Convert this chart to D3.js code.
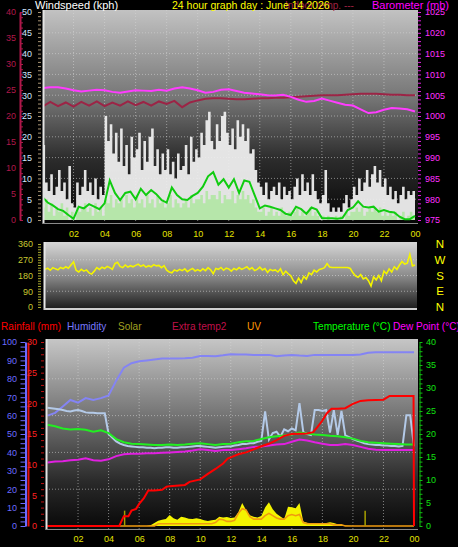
<!DOCTYPE html>
<html><head><meta charset="utf-8">
<script src="https://cdn.jsdelivr.net/npm/d3@7"></script>
<style>body{margin:0;background:#000;}svg{display:block;}</style>
</head><body>
<svg id="c" width="458" height="547"></svg>
<script>
// ---------------- DATA ----------------
const hourValues = [2,4,6,8,10,12,14,16,18,20,22,24];
const hourLabels = ["02","04","06","08","10","12","14","16","18","20","22","00"];
const windTicks = [0,5,10,15,20,25,30,35,40,45,50];
const indoorTicks = [0,5,10,15,20,25,30,35,40];
const baroTicks = [975,980,985,990,995,1000,1005,1010,1015,1020,1025];
const dirTicks = [0,90,180,270,360];
const compassLabels = ["N","W","S","E","N"];
const compassValues = [360,270,180,90,0];
const humTicks = [0,10,20,30,40,50,60,70,80,90,100];
const rainTicks = [0,5,10,15,20,25,30];
const tempTicks = [0,5,10,15,20,25,30,35,40];

// wind gust (kph), every 10 minutes
const gust = [
18,9,7,11,6,8, 12,7,9,5,13,4, 3,9,6,8,12,7, 9,6,10,5,8,6,
25,19,23,16,21,14, 22,13,18,11,20,15, 17,21,12,19,14,20, 22,13,17,11,16,12,
17,11,14,10,16,12, 13,18,11,20,14,17, 15,21,18,24,26,19, 17,23,19,25,26,21,
18,22,17,24,20,23, 19,22,16,17,12,9, 8,6,9,5,7,8, 6,9,5,8,6,7,
5,8,10,6,11,7, 9,6,11,7,5,4, 6,12,4,2,3,2, 3,2,4,6,3,5,
8,6,10,7,9,12, 8,11,13,9,12,8, 10,6,8,5,7,4, 6,8,5,7,6,7, 7];
// wind speed (kph), every 10 minutes
const speed = [
3,5,2,4,1,3, 2,4,1,3,0,2, 0,3,2,3,4,2, 3,1,4,2,3,1,
5,4,6,3,5,4, 5,3,6,4,5,3, 6,4,5,3,6,4, 5,3,6,4,5,3,
4,6,3,5,4,3, 4,5,3,6,4,5, 5,6,4,7,5,6, 6,5,7,4,6,5,
5,7,4,6,5,7, 5,6,4,5,3,2, 2,3,1,2,3,1, 2,1,3,2,1,2,
1,2,3,1,2,1, 2,3,1,2,1,0, 1,0,1,0,0,1, 0,1,0,2,1,2,
2,3,2,3,1,2, 3,2,3,2,3,1, 2,1,2,1,2,0, 1,2,0,1,2,1, 1];
// average wind (kph), every 20 minutes
const avgWind = [
5.5,4.2,3.5,2.6,2.2,1.2,0.3, 3.2,2.8,3.8,3.2,2.6,
4.0,9.5,6.5, 4.8,6.5,6.8, 5.0,7.5,6.0, 7.2,6.2,4.8, 4.2,7.8,6.0, 5.0,4.8,5.8,
6.5,8.0,10.5, 11.5,8.5,9.8, 7.8,9.8,6.5, 9.5,9.2,6.0, 2.8,3.5,3.2, 2.8,2.4,1.5,
1.2,3.2,2.6, 1.5,3.0,2.5, 0.5,0.4,0.4, 0.3,0.5,2.4, 3.0,4.5,3.2, 3.0,3.2,2.0,
2.4,2.0,1.8, 0.8,0.2,0.2, 1.0];
// barometer (mb), every 30 minutes
const baro = [1006.7,1006.9,1006.9,1006.6,1006.2,1005.9,1006.1,1006.3,1006.2,1005.8,
1005.6,1005.9,1006.2,1006.1,1006.0,1006.3,1006.1,1006.6,1006.9,1006.6,
1006.2,1005.6,1005.8,1006.3,1006.4,1006.0,1005.6,1005.4,1005.2,1005.0,
1004.9,1005.1,1004.6,1003.9,1003.4,1003.6,1004.2,1003.7,1003.2,1002.7,
1002.5,1001.6,1000.7,1000.9,1001.5,1001.9,1001.8,1001.6,1001.1];
// indoor temp (°C), every 30 minutes
const indoor = [21.8,22.7,21.9,22.6,21.8,22.7,22.0,22.8,21.9,22.6,
22.0,22.8,22.1,22.7,22.0,22.8,22.3,22.9,21.7,22.6,
23.0,23.3,23.4,23.4,23.3,23.2,23.2,23.3,23.4,23.4,
23.5,23.5,23.6,23.7,23.8,23.9,24.0,24.0,24.0,24.1,
24.2,24.3,24.3,24.3,24.2,24.1,24.1,24.0,24.0];
// wind direction (deg), every 10 minutes
const windDir = [
230,215,222,210,225,218, 212,226,219,230,222,240, 258,210,200,215,205,212, 195,188,205,225,215,228,
220,232,225,215,248,255, 232,225,240,228,236,230, 238,245,232,240,228,236, 230,242,235,238,225,236,
210,200,195,212,205,215, 208,218,202,212,220,206, 214,205,218,208,225,212, 190,220,215,226,210,222,
218,205,220,212,225,215, 222,230,215,225,208,215, 228,212,220,198,215,208, 212,200,218,185,205,190,
178,150,135,165,140,175, 160,195,185,210,200,215, 218,225,248,228,226,226, 226,226,226,226,226,220,
195,178,170,185,160,168, 150,120,172,155,180,150, 205,190,218,200,230,215, 240,260,245,250,300,235, 240];

// bottom chart, every 30 minutes
const temperature = [22.0,21.7,21.2,21.0,21.1,20.9,20.5,20.8,20.2,18.9,
18.2,17.9,17.8,17.7,17.6,17.6,17.7,17.6,17.7,17.9,
18.0,17.8,17.6,17.8,17.9,18.2,18.4,18.5,18.9,19.3,
19.5,19.7,19.9,20.3,20.1,19.9,19.8,19.6,19.5,19.3,
19.0,18.5,18.2,18.1,18.0,17.9,17.8,17.7,17.7];
const dewPoint = [13.8,14.0,14.1,14.3,14.4,14.7,14.3,14.2,14.5,15.2,
15.6,15.7,15.7,15.8,15.8,15.9,16.0,16.1,16.2,16.4,
16.7,16.5,16.3,16.5,16.5,16.7,16.9,17.2,17.3,17.5,
17.7,17.8,18.3,18.8,18.6,18.2,17.9,17.6,17.6,17.8,
17.6,17.2,16.8,16.6,16.5,16.5,16.5,16.5,16.5];
const humidity = [60,61.5,65,68.5,67,69.5,68.5,69.5,71,79,
86,88.5,89.5,90,90.5,91,91,91,91.2,91.5,
92.4,92.4,92.3,92.8,93.4,93.2,93.2,93.0,93.0,93.0,
92.2,92.6,93.0,92.6,92.4,93.0,93.0,93.0,93.0,93.0,
93.0,93.2,94.2,94.4,94.4,94.4,94.4,94.4,94.4];
// extra temperature sensor (pale blue), every 15 minutes
const extraTemp = [
25.7,25.6,25.5,25.4,25.2,25.0,24.9,25.1,25.2,25.0,24.7,24.6,24.6,24.5,24.5,24.5,
20.0,19.2,18.4,17.9,17.6,17.4,17.3,17.2,17.1,17.1,17.0,17.0,16.9,17.0,17.0,17.1,
17.1,17.0,17.0,17.1,17.1,17.2,17.3,17.4,17.4,17.3,17.2,17.1,17.0,17.1,17.2,17.3,
17.3,17.5,17.6,17.8,17.8,18.0,18.0,18.3,18.5,24.9,18.8,20.2,20.5,19.4,21.0,20.6,
21.2,20.8,26.7,20.4,20.0,19.8,25.2,25.2,25.0,25.2,20.3,25.2,19.8,25.0,19.7,19.3,
18.9,18.6,18.3,18.0,17.8,17.7,17.6,17.6,17.5,17.5,17.4,17.4,17.3,17.4,24.1,24.1,
17.3];
// solar radiation (W/m2), every 15 minutes
const solar = [
0,0,0,0,0,0,0,0,0,0,0,0,0,0,0,0,0,0,0,0,0,0,0,0,0,0,0,
5,20,35,40,45,72,50,40,60,55,48,45,50,46,38,32,38,40,60,55,58,
52,55,90,150,105,70,60,55,65,120,155,110,80,62,45,125,122,115,150,30,
22,18,15,18,20,20,25,20,12,8,4,2,
0,0,0,0,0,0,0,0,0,0,0,0,0,0,0,0,0];
// UV index, every 15 minutes
const uv = [
0,0,0,0,0,0,0,0,0,0,0,0,0,0,0,0,0,0,0,0,0,0,0,0,0,0,0,0,0,
0.2,0.2,0.2,0.2,0.2,0.2,0.2,0.2,0.2,0.2,0.2,0.2,0.2,0.2,0.2,
0.3,0.6,0.55,0.4,0.4,0.5,1.1,1.5,1.4,0.8,0.6,0.6,0.6,0.9,1.1,0.9,
0.7,0.6,0.6,0.9,1.0,0.9,1.0,0.3,0.2,0.2,0.2,0.2,0.2,0.2,0.2,0.1,0.1,0.1,
0,0,0,0,0,0,0,0,0,0,0,0,0,0,0,0,0,0,0];
// daily rainfall (mm)
const rainTime = [0,4.7,5.0,5.3,5.5,5.8,6.0,6.3,6.6,7.0,7.5,7.8,8.0,9.0,9.3,10.0,10.5,11.0,11.5,11.8,
12.0,12.5,13.0,13.5,14.0,14.5,15.0,15.5,16.0,17.0,17.4,17.7,18.0,18.3,18.6,19.0,19.5,20.0,20.5,21.0,
22.0,22.4,23.97,24.0];
const rainfall = [0,0,1.6,1.6,2.5,2.8,3.6,4.5,5.8,5.8,5.9,6.4,6.5,6.7,7.2,7.6,8.5,9.3,10.2,11.0,
11.2,11.7,12.0,12.5,13.0,13.4,14.0,14.7,15.0,15.1,15.3,16.2,17.2,18.4,19.1,19.1,19.2,19.9,20.4,20.5,
20.6,21.2,21.2,0];
// single solar spikes (W/m2)
const spikeTime = [5.05, 20.8];
const spikeValue = [100, 100];

// ---------------- DRAW ----------------
const FONT = "'Liberation Sans', Arial, sans-serif";
const svg = d3.select("#c");
svg.append("rect").attr("width",458).attr("height",547).attr("fill","#000");
const defs = svg.append("defs");
function grad(id, stops){
  const g = defs.append("linearGradient").attr("id",id).attr("x1",0).attr("y1",0).attr("x2",0).attr("y2",1);
  stops.forEach(s => g.append("stop").attr("offset",s[0]).attr("stop-color",s[1]));
}
grad("gTop", [[0,"#c2c2c2"],[0.42,"#747474"],[0.7,"#2c2c2c"],[1,"#050505"]]);
grad("gDir", [[0,"#d6d6d6"],[0.5,"#8c8c8c"],[1,"#1c1c1c"]]);
grad("gBot", [[0,"#c6c6c6"],[0.45,"#6a6a6a"],[0.75,"#2a2a2a"],[1,"#080808"]]);
function clip(id,x,y,w,h){ defs.append("clipPath").attr("id",id).append("rect").attr("x",x).attr("y",y).attr("width",w).attr("height",h); }

const t10 = d3.range(gust.length).map(i => i/6);
const t20 = d3.range(avgWind.length).map(i => i/3);
const t30 = d3.range(baro.length).map(i => i/2);
const t15 = d3.range(solar.length).map(i => i/4);

function styleAxis(g, color, size){
  g.selectAll("text").attr("fill",color).style("font",`${size}px ${FONT}`);
  g.selectAll("line").attr("stroke",color);
  g.select(".domain").attr("stroke",color);
}
function gridLines(g, xs, ys, x0, x1, y0, y1, color){
  xs.forEach(x => g.append("line").attr("x1",x).attr("x2",x).attr("y1",y0).attr("y2",y1));
  ys.forEach(y => g.append("line").attr("x1",x0).attr("x2",x1).attr("y1",y).attr("y2",y));
  g.selectAll("line").attr("stroke",color).attr("stroke-width",1).attr("stroke-dasharray","1,2").attr("opacity",0.55);
}

// ===== TOP: wind & barometer =====
const xTop = d3.scaleLinear().domain([0,24]).range([42.5,415]);
const yWind = d3.scaleLinear().domain([0,50]).range([220,12]);
const yIndoor = d3.scaleLinear().domain([0,40]).range([220,12]);
const yBaro = d3.scaleLinear().domain([975,1025]).range([220,12]);
svg.append("rect").attr("x",43).attr("y",10).attr("width",375).attr("height",213).attr("fill","url(#gTop)");
clip("cTop",43,10,375,213);
gridLines(svg.append("g"), hourValues.slice(0,11).map(xTop), windTicks.slice(1,10).map(yWind), 43, 418, 10, 223, "#d8d8d8");
const gTop = svg.append("g").attr("clip-path","url(#cTop)");
gTop.append("path").datum(gust)
  .attr("d", d3.area().curve(d3.curveStepAfter).x((d,i)=>xTop(t10[i])).y0(yWind(0)).y1(d=>yWind(d)))
  .attr("fill","#eeeeee").attr("opacity",0.95);
gTop.append("path").datum(speed)
  .attr("d", d3.area().curve(d3.curveStepAfter).x((d,i)=>xTop(t10[i])).y0(yWind(0)).y1(d=>yWind(d)))
  .attr("fill","#b6e6aa");
gTop.append("path").datum(avgWind)
  .attr("d", d3.line().x((d,i)=>xTop(t20[i])).y(d=>yWind(d)))
  .attr("fill","none").attr("stroke","#10cc10").attr("stroke-width",2);
gTop.append("path").datum(indoor)
  .attr("d", d3.line().x((d,i)=>xTop(t30[i])).y(d=>yIndoor(d)))
  .attr("fill","none").attr("stroke","#9c2446").attr("stroke-width",2);
gTop.append("path").datum(baro)
  .attr("d", d3.line().x((d,i)=>xTop(t30[i])).y(d=>yBaro(d)))
  .attr("fill","none").attr("stroke","#ff3cff").attr("stroke-width",2);
svg.append("line").attr("x1",43.5).attr("x2",43.5).attr("y1",10).attr("y2",224).attr("stroke","#e4e4e4").attr("stroke-width",2);
svg.append("line").attr("x1",43).attr("x2",418).attr("y1",223.5).attr("y2",223.5).attr("stroke","#8a8a8a").attr("stroke-width",1);

// axes top
let ax;
ax = svg.append("g").attr("transform","translate(20,0)")
  .call(d3.axisLeft(yIndoor).tickValues(indoorTicks).tickSize(0).tickSizeOuter(0).tickPadding(4));
styleAxis(ax,"#b0184a",9); ax.select(".domain").attr("stroke-width",2);
ax = svg.append("g").attr("transform","translate(20,0)")
  .call(d3.axisRight(yIndoor).tickValues(d3.range(0,41,1)).tickSize(3).tickSizeOuter(0).tickFormat(""));
styleAxis(ax,"#b0184a",9); ax.select(".domain").remove();
ax = svg.append("g").attr("transform","translate(35,0)")
  .call(d3.axisLeft(yWind).tickValues(windTicks).tickSize(0).tickPadding(3));
styleAxis(ax,"#cfe6ff",9); ax.select(".domain").remove();
ax = svg.append("g").attr("transform","translate(38,0)")
  .call(d3.axisRight(yWind).tickValues(d3.range(0,51,1)).tickSize(3).tickFormat(""));
styleAxis(ax,"#a89474",9); ax.select(".domain").remove();
ax = svg.append("g").attr("transform","translate(419,0)")
  .call(d3.axisRight(yBaro).tickValues(baroTicks).tickFormat(d3.format("d")).tickSize(0).tickPadding(6));
styleAxis(ax,"#ff30ff",9); ax.select(".domain").remove();
ax = svg.append("g").attr("transform","translate(418,0)")
  .call(d3.axisRight(yBaro).tickValues(d3.range(975,1026,1)).tickSize(3).tickFormat(""));
styleAxis(ax,"#e020e0",9); ax.select(".domain").remove();
ax = svg.append("g").attr("transform","translate(0,229)")
  .call(d3.axisBottom(xTop).tickValues(hourValues).tickFormat((d,i)=>hourLabels[i]).tickSize(0).tickPadding(2));
styleAxis(ax,"#e4e400",9); ax.select(".domain").remove();

// titles
function txt(x,y,s,color,size){ return svg.append("text").attr("x",x).attr("y",y).text(s).attr("fill",color).style("font",`${size}px ${FONT}`); }
txt(35,8.5,"Windspeed (kph)","#ffffff",11);
txt(285,8.5,"Indoor temp. ---","#a02040",10);
txt(172,8.5,"24 hour graph day : June 14 2026","#ffff00",10.5);
txt(372,8.5,"Barometer (mb)","#ff00ff",11);

// ===== MIDDLE: wind direction =====
const yDir = d3.scaleLinear().domain([0,360]).range([307,244]);
svg.append("rect").attr("x",44).attr("y",242).attr("width",373).attr("height",67).attr("fill","url(#gDir)");
clip("cDir",44,242,373,67);
gridLines(svg.append("g"), [], [90,180,270].map(yDir), 44, 417, 242, 309, "#e0e0e0");
svg.append("g").attr("clip-path","url(#cDir)").append("path").datum(windDir)
  .attr("d", d3.line().x((d,i)=>xTop(t10[i])).y(d=>yDir(d)))
  .attr("fill","none").attr("stroke","#f4f400").attr("stroke-width",1.6);
svg.append("line").attr("x1",44.5).attr("x2",44.5).attr("y1",242).attr("y2",310).attr("stroke","#e8e8e8").attr("stroke-width",2);
svg.append("line").attr("x1",44).attr("x2",417).attr("y1",309).attr("y2",309).attr("stroke","#cfcfcf").attr("stroke-width",2);
ax = svg.append("g").attr("transform","translate(36,0)")
  .call(d3.axisLeft(yDir).tickValues(dirTicks).tickSize(0).tickPadding(3));
styleAxis(ax,"#c8c830",9); ax.select(".domain").remove();
ax = svg.append("g").attr("transform","translate(38,0)")
  .call(d3.axisRight(yDir).tickValues(d3.range(0,361,15)).tickSize(3).tickFormat(""));
styleAxis(ax,"#a8a830",9); ax.select(".domain").remove();
svg.append("g").selectAll("text").data(compassLabels).join("text")
  .attr("x",440).attr("y",(d,i)=>yDir(compassValues[i])).attr("dy","0.36em")
  .attr("text-anchor","middle").attr("fill","#ffff00").style("font",`11.5px ${FONT}`).text(d=>d);

// ===== BOTTOM: rain, humidity, temperatures, solar =====
const xBot = d3.scaleLinear().domain([0,24]).range([47.5,414]);
const yHum = d3.scaleLinear().domain([0,100]).range([526,342]);
const yRain = d3.scaleLinear().domain([0,30]).range([526,342]);
const yTemp = d3.scaleLinear().domain([0,40]).range([526,342]);
const ySolar = d3.scaleLinear().domain([0,1200]).range([526,342]);
const yUV = d3.scaleLinear().domain([0,16]).range([526,342]);
svg.append("rect").attr("x",46).attr("y",339).attr("width",372).attr("height",190).attr("fill","url(#gBot)");
clip("cBot",46,339,372,190);
gridLines(svg.append("g"), hourValues.slice(0,11).map(xBot), [20,40,60,80].map(yHum), 46, 418, 339, 529, "#d8d8d8");
const gBot = svg.append("g").attr("clip-path","url(#cBot)");
gBot.append("path").datum(humidity)
  .attr("d", d3.line().x((d,i)=>xBot(t30[i])).y(d=>yHum(d)))
  .attr("fill","none").attr("stroke","#8484f4").attr("stroke-width",2);
gBot.append("path").datum(extraTemp)
  .attr("d", d3.line().x((d,i)=>xBot(t15[i])).y(d=>yTemp(d)))
  .attr("fill","none").attr("stroke","#b4cae8").attr("stroke-width",2);
gBot.append("path").datum(solar)
  .attr("d", d3.area().x((d,i)=>xBot(t15[i])).y0(ySolar(0)).y1(d=>ySolar(d)))
  .attr("fill","#f4f400");
gBot.append("path").datum(uv)
  .attr("d", d3.line().x((d,i)=>xBot(t15[i])).y(d=>yUV(d)))
  .attr("fill","none").attr("stroke","#f09a10").attr("stroke-width",1.6);
gBot.append("g").selectAll("line").data(spikeValue).join("line")
  .attr("x1",(d,i)=>xBot(spikeTime[i])).attr("x2",(d,i)=>xBot(spikeTime[i]))
  .attr("y1",ySolar(0)).attr("y2",d=>ySolar(d)).attr("stroke","#a8a000").attr("stroke-width",1.5);
gBot.append("path").datum(dewPoint)
  .attr("d", d3.line().x((d,i)=>xBot(t30[i])).y(d=>yTemp(d)))
  .attr("fill","none").attr("stroke","#e020e0").attr("stroke-width",2);
gBot.append("path").datum(temperature)
  .attr("d", d3.line().x((d,i)=>xBot(t30[i])).y(d=>yTemp(d)))
  .attr("fill","none").attr("stroke","#22ee22").attr("stroke-width",2);
gBot.append("path").datum(rainfall)
  .attr("d", d3.line().x((d,i)=>xBot(rainTime[i])).y(d=>yRain(d)))
  .attr("fill","none").attr("stroke","#ff0000").attr("stroke-width",2);
svg.append("line").attr("x1",46.5).attr("x2",46.5).attr("y1",339).attr("y2",530).attr("stroke","#e4e4e4").attr("stroke-width",2);
svg.append("line").attr("x1",46).attr("x2",418).attr("y1",529.5).attr("y2",529.5).attr("stroke","#8a8a8a").attr("stroke-width",1);

ax = svg.append("g").attr("transform","translate(20,0)")
  .call(d3.axisLeft(yHum).tickValues(humTicks).tickSize(0).tickPadding(3));
styleAxis(ax,"#6c6cff",9); ax.select(".domain").remove();
ax = svg.append("g").attr("transform","translate(25.5,0)")
  .call(d3.axisLeft(yHum).tickValues(d3.range(0,101,2.5)).tickSize(5).tickSizeOuter(0).tickFormat(""));
styleAxis(ax,"#6c6cff",9); ax.select(".domain").attr("stroke-width",2);
ax = svg.append("g").attr("transform","translate(28,0)")
  .call(d3.axisRight(yRain).tickValues([]).tickSizeOuter(0));
styleAxis(ax,"#e01010",9); ax.select(".domain").attr("stroke-width",2);
ax = svg.append("g").attr("transform","translate(40,0)")
  .call(d3.axisLeft(yRain).tickValues(rainTicks).tickSize(0).tickPadding(3));
styleAxis(ax,"#ff2020",9); ax.select(".domain").remove();
ax = svg.append("g").attr("transform","translate(41,0)")
  .call(d3.axisRight(yRain).tickValues(d3.range(0,31,1)).tickSize(3).tickFormat(""));
styleAxis(ax,"#c01010",9); ax.select(".domain").remove();
ax = svg.append("g").attr("transform","translate(420,0)")
  .call(d3.axisRight(yTemp).tickValues(tempTicks).tickSize(0).tickPadding(6));
styleAxis(ax,"#10e010",9); ax.select(".domain").remove();
ax = svg.append("g").attr("transform","translate(419.5,0)")
  .call(d3.axisRight(yTemp).tickValues(d3.range(0,41,1)).tickSize(3).tickSizeOuter(0).tickFormat(""));
styleAxis(ax,"#10c010",9);
ax = svg.append("g").attr("transform","translate(0,534)")
  .call(d3.axisBottom(xBot).tickValues(hourValues).tickFormat((d,i)=>hourLabels[i]).tickSize(0).tickPadding(2));
styleAxis(ax,"#e4e400",9); ax.select(".domain").remove();

// legend row
txt(1,330,"Rainfall (mm)","#ff0000",10.1);
txt(67,330,"Humidity","#7878ff",10.1);
txt(118,330,"Solar","#a0a020",10.1);
txt(172,330,"Extra temp2","#c0104a",10.1);
txt(247,330,"UV","#ff9900",10.1);
txt(313,330,"Temperature (°C)","#00ff00",10.1);
txt(393,330,"Dew Point (°C)","#ff00ff",10.1);
</script>
</body></html>
